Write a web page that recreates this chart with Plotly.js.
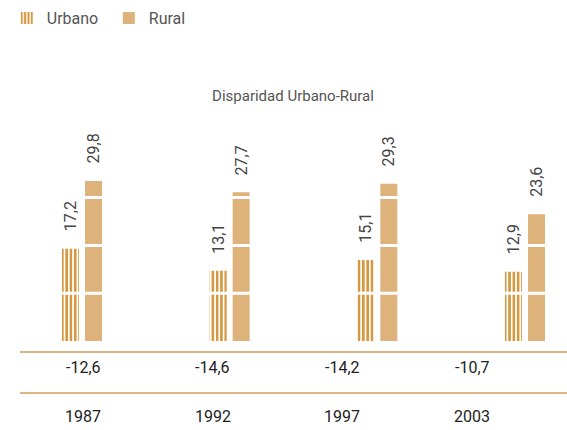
<!DOCTYPE html>
<html>
<head>
<meta charset="utf-8">
<script src="https://cdn.plot.ly/plotly-3.0.1.min.js"></script>
<style>html,body{margin:0;padding:0;background:#fff;}#chart{width:567px;height:430px;}</style>
</head>
<body>
<div id="chart"></div>
<script>
// ---- data ----
var years = ["1987", "1992", "1997", "2003"];
var urbano = [17.2, 13.1, 15.1, 12.9];
var rural = [29.8, 27.7, 29.3, 23.6];
var disparidad = [-12.6, -14.6, -14.2, -10.7];
var seriesNames = ["Urbano", "Rural"];
var chartTitle = "Disparidad Urbano-Rural";

// ---- styles ----
var ORANGE = "#D6973F";
var TAN = "#DDB27B";
var LINE = "#D49B58";
var W = 567, H = 430;
var mT = 120, mB = 89;
var plotH = H - mT - mB;
var pxPerUnit = 5.37;
var barSpacing = 147.67, firstBar = 82;
var tabSpacing = 129.67, firstTab = 83;
var barW = 17, barGap = 6;
var segStep = 8.9;

function fmt(v) { return v.toFixed(1).replace(".", ","); }
function py(p) { return (H - mB - p) / plotH; }

var traces = [
  {
    type: "bar", name: seriesNames[0], x: years, y: urbano,
    xaxis: "x", yaxis: "y",
    offset: -(barW + barGap / 2) / barSpacing, width: barW / barSpacing,
    marker: { color: "#ffffff", line: { width: 0 },
      pattern: { shape: "|", fgcolor: ORANGE, bgcolor: "#ffffff", size: 4.3, solidity: 0.6 } },
    hoverinfo: "skip"
  },
  {
    type: "bar", name: seriesNames[1], x: years, y: rural,
    xaxis: "x", yaxis: "y",
    offset: (barGap / 2) / barSpacing, width: barW / barSpacing,
    marker: { color: TAN, line: { width: 0 } },
    hoverinfo: "skip"
  },
  {
    type: "scatter", mode: "none", x: years, y: disparidad,
    xaxis: "x2", yaxis: "y", showlegend: false, hoverinfo: "skip"
  }
];

// category positions are given by index (numeric-looking strings would be read as numbers)
var annotations = [];
years.forEach(function (yr, i) {
  annotations.push({ xref: "x", yref: "y", x: i, y: urbano[i], text: fmt(urbano[i]),
    textangle: -90, showarrow: false, yanchor: "bottom", yshift: 15, xshift: -(barW + barGap) / 2,
    font: { size: 16, color: "#444" } });
  annotations.push({ xref: "x", yref: "y", x: i, y: rural[i], text: fmt(rural[i]),
    textangle: -90, showarrow: false, yanchor: "bottom", yshift: 15, xshift: (barW + barGap) / 2,
    font: { size: 16, color: "#444" } });
  annotations.push({ xref: "x2", yref: "paper", x: i, y: py(367), text: fmt(disparidad[i]),
    showarrow: false, yanchor: "middle", font: { size: 16, color: "#222" } });
  annotations.push({ xref: "x2", yref: "paper", x: i, y: py(416), text: yr,
    showarrow: false, yanchor: "middle", font: { size: 16, color: "#222" } });
});

var yMax = plotH / pxPerUnit;
var shapes = [];
for (var s = segStep; s < yMax; s += segStep) {
  shapes.push({ type: "line", xref: "paper", yref: "y", x0: 0, x1: 1, y0: s, y1: s,
    line: { color: "#ffffff", width: 3 }, layer: "above" });
}
shapes.push({ type: "line", xref: "paper", yref: "paper", x0: 20 / W, x1: 1, y0: py(352), y1: py(352),
  line: { color: LINE, width: 1.6 } });
shapes.push({ type: "line", xref: "paper", yref: "paper", x0: 20 / W, x1: 1, y0: py(393), y1: py(393),
  line: { color: LINE, width: 1.6 } });

var layout = {
  width: W, height: H,
  margin: { l: 0, r: 0, t: mT, b: mB, pad: 0 },
  paper_bgcolor: "#ffffff", plot_bgcolor: "rgba(0,0,0,0)",
  font: { family: "Roboto, 'Open Sans', sans-serif", color: "#555" },
  barmode: "overlay",
  title: { text: chartTitle, x: 293 / W, xref: "paper", xanchor: "center",
    y: 1 - 96 / H, yref: "container", yanchor: "middle",
    font: { size: 15, color: "#555" } },
  showlegend: true,
  legend: { orientation: "h", x: 0.012, xanchor: "left", y: 1 - 1 / H, yref: "container", yanchor: "top",
    font: { size: 16, color: "#555" }, entrywidth: 57, entrywidthmode: "pixels",
    bgcolor: "rgba(0,0,0,0)" },
  xaxis: { type: "category", categoryorder: "array", categoryarray: years,
    range: [-firstBar / barSpacing, (W - firstBar) / barSpacing],
    showgrid: false, zeroline: false, showticklabels: false, showline: false, ticks: "", fixedrange: true },
  xaxis2: { type: "category", categoryorder: "array", categoryarray: years, anchor: "y", overlaying: "x",
    range: [-firstTab / tabSpacing, (W - firstTab) / tabSpacing],
    showgrid: false, zeroline: false, showticklabels: false, showline: false, ticks: "", fixedrange: true },
  yaxis: { range: [0, yMax], showgrid: false, zeroline: false, showticklabels: false, showline: false, ticks: "", fixedrange: true },
  shapes: shapes,
  annotations: annotations
};

Plotly.newPlot("chart", traces, layout, { staticPlot: true, displayModeBar: false });
</script>
</body>
</html>
